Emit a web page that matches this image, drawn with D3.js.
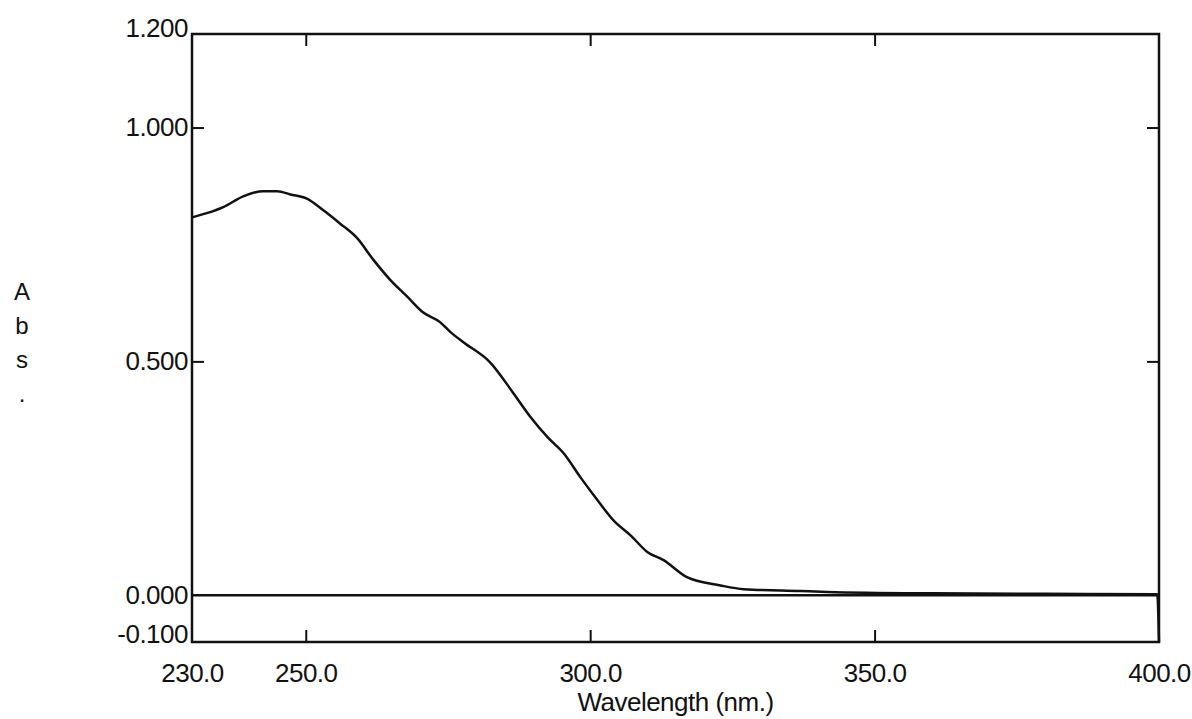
<!DOCTYPE html>
<html>
<head>
<meta charset="utf-8">
<script src="https://cdn.jsdelivr.net/npm/d3@7"></script>
<style>
  body { margin: 0; background: #fff; }
  text { font-family: "Liberation Sans", Arial, sans-serif; fill: #111; }
</style>
</head>
<body>
<div id="chart"></div>
<script>
// absorbance spectrum
var wavelength = [230, 232.6, 235.5, 239, 242.5, 245, 247.3, 250.2, 253.1, 256, 259, 261.9, 264.8, 267.8, 270.6, 273.6, 275.4, 277.7, 282.4, 286.5, 289.5, 292.5, 295.3, 298.3, 301.3, 304.1, 307.1, 310.1, 312.9, 317.1, 322.9, 327, 337, 341.7, 360, 380, 399.7, 400];
var absorbance = [0.808, 0.817, 0.83, 0.853, 0.864, 0.864, 0.857, 0.848, 0.823, 0.795, 0.764, 0.717, 0.675, 0.639, 0.605, 0.584, 0.563, 0.541, 0.498, 0.432, 0.381, 0.338, 0.304, 0.252, 0.203, 0.16, 0.128, 0.092, 0.075, 0.038, 0.021, 0.013, 0.009, 0.007, 0.004, 0.003, 0.002, -0.1];

var xTicks = [230, 250, 300, 350, 400];
var yTicks = [-0.1, 0, 0.5, 1.0, 1.2];
var yInnerTicks = [0.5, 1.0];
var xInnerTicks = [250, 300, 350];
var yLetters = ["A", "b", "s", "."];

var width = 1192, height = 719;
var mLeft = 192, mRight = 1159, mTop = 34, mBottom = 642;

var svg = d3.select("#chart")
    .append("svg")
    .attr("width", width)
    .attr("height", height);

var x = d3.scaleLinear().domain([230, 400]).range([mLeft, mRight]);
var y = d3.scaleLinear().domain([-0.1, 1.2]).range([mBottom, mTop]);

function styleAxis(g) {
    g.select(".domain").remove();
    g.selectAll(".tick line").attr("stroke", "#111").attr("stroke-width", 2);
    g.selectAll(".tick text").style("font-size", "26px").style("letter-spacing", "-0.5px");
}

// plain hyphen for negatives, like the instrument printout
var yFmt = d => d.toFixed(3);

// frame
svg.append("rect")
    .attr("x", mLeft).attr("y", mTop)
    .attr("width", mRight - mLeft).attr("height", mBottom - mTop)
    .attr("fill", "none").attr("stroke", "#111").attr("stroke-width", 2.5);

// left axis with labels
var gl = svg.append("g")
    .attr("transform", "translate(" + mLeft + ",0)")
    .call(d3.axisLeft(y).tickValues(yTicks).tickSize(-12).tickPadding(4)
        .tickFormat(yFmt));
styleAxis(gl);
gl.selectAll(".tick line").filter(d => yInnerTicks.indexOf(d) < 0).remove();
gl.selectAll(".tick text").filter(d => d === -0.1).attr("dy", "0.02em");
gl.selectAll(".tick text").filter(d => d === 1.2).attr("dy", "0.09em");

// right axis, ticks only
var gr = svg.append("g")
    .attr("transform", "translate(" + mRight + ",0)")
    .call(d3.axisRight(y).tickValues(yInnerTicks).tickSize(-12).tickFormat(""));
styleAxis(gr);

// bottom axis with labels
var gb = svg.append("g")
    .attr("transform", "translate(0," + mBottom + ")")
    .call(d3.axisBottom(x).tickValues(xTicks).tickSize(-12).tickPadding(22)
        .tickFormat(d3.format(".1f")));
styleAxis(gb);
gb.selectAll(".tick line").filter(d => xInnerTicks.indexOf(d) < 0).remove();

// top axis, ticks only
var gt = svg.append("g")
    .attr("transform", "translate(0," + mTop + ")")
    .call(d3.axisTop(x).tickValues(xInnerTicks).tickSize(-12).tickFormat(""));
styleAxis(gt);

// zero line
svg.append("line")
    .attr("x1", x(230)).attr("x2", x(400))
    .attr("y1", y(0)).attr("y2", y(0))
    .attr("stroke", "#111").attr("stroke-width", 2.5);

// spectrum
var pts = wavelength.map((w, i) => [w, absorbance[i]]);
svg.append("path")
    .datum(pts)
    .attr("fill", "none")
    .attr("stroke", "#111")
    .attr("stroke-width", 2.5)
    .attr("d", d3.line().x(d => x(d[0])).y(d => y(d[1])).curve(d3.curveMonotoneX));

// axis titles
svg.append("text")
    .attr("x", (mLeft + mRight) / 2)
    .attr("y", 711)
    .attr("text-anchor", "middle")
    .style("font-size", "26px")
    .style("letter-spacing", "-0.5px")
    .text("Wavelength (nm.)");

svg.selectAll(".ylet")
    .data(yLetters)
    .enter().append("text")
    .attr("class", "ylet")
    .attr("x", 22)
    .attr("y", (d, i) => 300 + i * 34)
    .attr("text-anchor", "middle")
    .style("font-size", "24px")
    .text(d => d);
</script>
</body>
</html>
